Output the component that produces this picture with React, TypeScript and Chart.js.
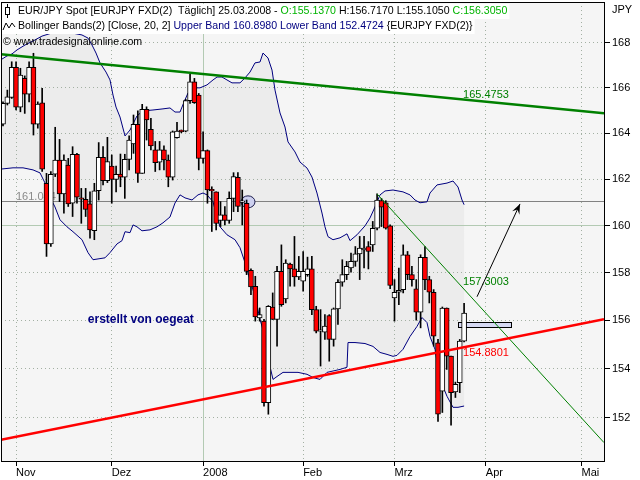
import React, { useEffect, useRef } from 'react';
import { Chart, registerables } from 'chart.js';

Chart.register(...registerables);

// ---------------- data ----------------
const FIRST_DAY = '2007-10-29';
const SLOT_COUNT = 139;
const MONTH_NAMES = ['Jan', 'Feb', 'Mrz', 'Apr', 'Mai', 'Jun', 'Jul', 'Aug', 'Sep', 'Okt', 'Nov', 'Dez'];

const openP = [
  164.40, 165.31, 165.58, 166.91, 165.14, 166.42, 165.72, 166.91, 164.40, 165.34,
  161.82, 159.22, 162.21, 162.83, 161.36, 162.61, 160.96, 163.08, 161.17, 161.13,
  160.93, 159.79, 161.50, 162.95, 161.93, 162.57, 161.99, 162.22, 162.08, 162.86,
  163.53, 164.39, 162.25, 165.05, 164.17, 163.27, 162.74, 163.27, 162.83, 162.08,
  163.80, 164.09, 164.09, 165.43, 166.27, 165.68, 162.90, 163.24, 161.50, 161.45,
  160.22, 160.46, 160.22, 161.17, 162.08, 161.00, 160.96, 158.10, 157.43, 156.10,
  155.97, 152.61, 156.56, 156.04, 158.06, 156.90, 158.37, 158.16, 157.82, 157.64,
  157.92, 158.16, 156.45, 155.55, 155.51, 156.20, 155.21, 156.48, 157.60, 157.92,
  158.20, 158.48, 158.80, 158.97, 159.11, 159.18, 159.89, 161.07, 160.98, 159.99,
  156.94, 157.18, 157.29, 158.76, 157.92, 157.32, 156.34, 158.65, 157.71, 157.18,
  155.07, 153.08, 156.52, 154.52, 153.05, 153.43, 155.137,
];
const highP = [
  165.38, 165.90, 167.16, 167.16, 166.87, 166.53, 167.16, 167.54, 165.38, 165.98,
  162.25, 162.33, 164.26, 163.73, 163.05, 162.90, 163.41, 163.12, 161.60, 161.60,
  161.45, 161.82, 163.59, 163.41, 163.82, 163.05, 162.57, 163.09, 163.08, 163.88,
  164.80, 164.98, 165.27, 165.16, 164.65, 163.64, 163.64, 163.45, 163.05, 164.10,
  164.48, 164.14, 165.49, 166.61, 166.42, 165.75, 164.06, 163.27, 161.67, 161.45,
  161.03, 160.82, 161.45, 162.28, 162.28, 161.53, 161.10, 158.16, 157.85, 156.52,
  156.04, 156.62, 157.15, 158.27, 159.18, 158.55, 158.41, 159.54, 158.69, 158.90,
  158.66, 158.69, 156.59, 156.45, 156.24, 156.24, 156.52, 157.71, 158.55, 158.48,
  158.83, 159.11, 159.54, 159.54, 159.32, 160.18, 161.36, 161.17, 161.07, 160.03,
  157.71, 158.20, 159.18, 158.90, 158.27, 157.71, 158.76, 159.11, 157.85, 157.29,
  155.21, 156.56, 156.52, 154.52, 153.45, 155.21, 156.717,
];
const lowP = [
  164.32, 165.24, 165.53, 165.02, 164.94, 164.87, 165.38, 163.92, 164.22, 162.33,
  158.69, 159.11, 162.11, 161.03, 160.53, 160.82, 160.39, 160.96, 160.10, 160.39,
  159.47, 159.40, 161.10, 161.75, 161.85, 160.96, 161.45, 161.67, 161.17, 162.40,
  163.12, 161.86, 162.25, 163.70, 163.27, 162.33, 162.40, 162.40, 161.67, 161.96,
  163.78, 164.02, 164.06, 165.31, 165.31, 162.40, 162.69, 160.96, 159.75, 159.82,
  159.96, 160.03, 160.10, 160.60, 160.60, 160.03, 157.92, 157.08, 155.97, 155.97,
  152.47, 152.14, 156.04, 154.93, 156.59, 156.73, 157.43, 157.43, 157.71, 157.22,
  157.85, 156.24, 155.48, 154.11, 155.21, 154.31, 154.93, 155.83, 157.43, 157.71,
  158.02, 158.27, 157.71, 158.20, 158.16, 158.90, 159.82, 159.96, 159.85, 157.33,
  155.97, 156.66, 157.15, 157.71, 157.43, 156.01, 155.69, 157.29, 156.73, 154.93,
  151.85, 152.21, 153.97, 151.69, 152.82, 153.02, 155.105,
];
const closeP = [
  165.31, 165.60, 166.91, 165.14, 166.57, 165.72, 166.91, 164.40, 165.28, 162.43,
  159.22, 162.21, 162.83, 161.36, 162.83, 160.93, 163.08, 161.22, 161.13, 160.70,
  159.82, 161.50, 162.95, 161.93, 162.76, 161.99, 162.21, 162.08, 162.86, 163.70,
  164.39, 162.25, 165.05, 164.58, 163.44, 162.71, 163.27, 162.83, 162.08, 164.06,
  164.09, 164.07, 165.43, 166.27, 165.34, 162.90, 163.24, 161.53, 161.49, 160.10,
  160.46, 160.22, 161.17, 162.11, 160.82, 161.00, 158.06, 157.40, 156.15, 156.24,
  152.61, 156.59, 156.04, 158.06, 156.66, 158.41, 158.16, 157.82, 158.06, 158.06,
  158.16, 156.45, 155.55, 155.55, 155.76, 155.21, 156.48, 157.60, 157.92, 158.27,
  158.48, 158.80, 159.04, 159.04, 158.90, 159.89, 161.10, 160.79, 159.89, 157.46,
  157.18, 157.26, 158.76, 157.92, 157.71, 156.34, 158.65, 157.71, 157.18, 155.34,
  152.14, 156.52, 154.52, 153.02, 153.36, 155.14, 156.305,
];

// Bollinger band (at irregular bar positions)
const upperIdx = [
  -0.23, 0.92, 2.07, 3.22, 5.06, 6.9, 8.97, 11.26, 13.56, 15.86, 18.16, 19.54, 20.46, 21.38, 22.3,
  23.68, 24.6, 25.29, 25.98, 26.9, 28.05, 29.2, 30.8, 32.18, 34.48, 36.78, 38.39, 39.54, 40.69,
  41.61, 42.53, 43.68, 45.29, 46.9, 48.28, 49.2, 50.34, 51.49, 52.64, 54.48, 55.63, 56.78, 57.93,
  59.08, 59.77, 60.92, 61.84, 62.53, 63.68, 64.83, 65.52, 67.13, 68.28, 69.89, 71.03, 72.18,
  73.33, 74.02, 74.71, 75.86, 77.47, 79.08, 79.77, 81.38, 83.22, 84.37, 85.52, 86.67, 87.82,
  89.66, 91.95, 93.56, 94.71, 95.86, 97.47, 98.16, 99.77, 102.07, 103.45, 104.6, 105.52, 106,
];
const upperVal = [
  167.28, 167.42, 167.51, 167.69, 167.91, 168.09, 168.31, 168.45, 168.49, 168.45, 168.36, 168.22, 167.91, 167.55, 167.11,
  166.70, 166.35, 165.68, 165.15, 164.71, 163.88, 164.14, 164.76, 164.98, 165.02, 165.07, 165.11, 164.93, 164.93,
  165.37, 165.77, 166.00, 166.00, 166.13, 166.35, 166.48, 166.48, 166.35, 166.22, 166.22, 166.44, 166.70, 167.11,
  167.15, 167.55, 167.33, 166.79, 165.90, 164.89, 164.27, 163.62, 163.18, 162.74, 162.48, 162.09, 161.40,
  160.54, 159.95, 159.53, 159.40, 159.48, 159.65, 159.36, 159.61, 159.99, 160.33, 160.80, 161.32, 161.49,
  161.53, 161.45, 161.32, 161.10, 160.98, 161.02, 161.40, 161.75, 161.83, 161.92, 161.66, 161.10, 160.898,
];
const lowerIdx = [
  -0.23, 2.3, 4.6, 6.9, 8.51, 9.66, 10.8, 11.95, 13.1, 14.71, 16.09, 18.16, 19.54, 20.69, 23.45,
  24.6, 26.21, 27.36, 28.05, 29.2, 29.89, 30.8, 31.95, 33.79, 35.4, 36.78, 38.39, 39.54, 40.69,
  41.84, 43.45, 44.83, 45.98, 46.9, 48.28, 49.2, 49.89, 51.49, 53.33, 54.48, 55.63, 56.78, 57.93,
  59.08, 60.23, 60.69, 61.38, 62.07, 62.99, 64.37, 65.98, 67.82, 69.89, 71.26, 72.87, 74.48,
  77.47, 79.08, 79.31, 80.92, 83.22, 85.06, 86.67, 88.28, 89.66, 90.57, 91.95, 93.56, 95.17,
  96.32, 97.47, 98.16, 99.31, 100.46, 102.07, 103.45, 104.6, 106,
];
const lowerVal = [
  162.44, 162.49, 162.49, 162.40, 162.27, 161.83, 161.23, 160.80, 160.25, 159.95, 159.74, 159.40, 158.85, 158.55, 158.63,
  158.85, 159.22, 159.36, 159.74, 159.70, 160.03, 159.95, 159.78, 159.82, 159.95, 160.12, 160.37, 160.97, 161.32,
  161.19, 161.10, 161.32, 161.40, 161.32, 161.02, 160.37, 159.95, 159.61, 159.40, 159.06, 158.43, 157.71, 157.00,
  156.04, 155.33, 154.67, 154.09, 153.56, 153.68, 153.85, 153.85, 153.85, 153.77, 153.64, 153.56, 153.85,
  153.97, 154.06, 155.08, 155.08, 155.04, 154.92, 154.67, 154.59, 154.51, 154.55, 154.80, 155.33, 155.75,
  156.12, 155.91, 155.33, 154.80, 153.56, 152.87, 152.42, 152.42, 152.4724,
];

const Y_TICKS = [152, 154, 156, 158, 160, 162, 164, 166, 168];
const Y_MIN = 150.25;
const Y_MAX = 169.85;
const X_MIN = -0.46;
const X_MAX = 138.16;

// drawn trend lines: [start, end] in bar index / price
const greenTrendIdx = [-0.46, 138.16];
const greenTrendVal = [167.5, 164.88];
const redTrendIdx = [-0.46, 138.16];
const redTrendVal = [151.1, 156.05];
const thinTrendIdx = [86, 138.16];
const thinTrendVal = [161.36, 150.99];

const HLINE_VALUE = 161.044;
const MAJOR_Y_LINE = 160;
const ARROW_IDX = [108.97, 118.85];
const ARROW_VAL = [156.99, 160.93];
const ELLIPSE_POS = [56.32, 161.02];
const RECT_IDX = [104.8, 117.0];
const RECT_VAL = [155.91, 155.70];
const LINE_LABEL_IDX = 105.75;
const LINE_LABELS = ['165.4753', '157.3003', '154.8801'];
const NOTE_TEXT = 'erstellt von oegeat';
const NOTE_POS = [19.5, 156.04];

const LEGEND_ROW1 = [
  ['EUR/JPY Spot [EURJPY FXD(2)  Täglich] 25.03.2008 - ', '#000000'],
  ['O:155.1370', '#00b400'],
  [' H:156.7170 L:155.1050 ', '#000000'],
  ['C:156.3050', '#00b400'],
];
const LEGEND_ROW2 = [
  ['Bollinger Bands(2) [Close, 20, 2] ', '#000000'],
  ['Upper Band 160.8980 Lower Band 152.4724', '#000080'],
  [' {EURJPY FXD(2)}', '#000000'],
];
const LEGEND_ROW3 = '© www.tradesignalonline.com';

// ---------------- helpers ----------------
function tradingDays(start: string, n: number): Date[] {
  const out: Date[] = [];
  const d = new Date(start + 'T12:00:00Z');
  while (out.length < n) {
    const wd = d.getUTCDay();
    if (wd !== 0 && wd !== 6) out.push(new Date(d.getTime()));
    d.setUTCDate(d.getUTCDate() + 1);
  }
  return out;
}

const DAYS = tradingDays(FIRST_DAY, SLOT_COUNT);
const MONTH_TICKS: number[] = [];
DAYS.forEach((d, i) => {
  if (i > 0 && d.getUTCMonth() !== DAYS[i - 1].getUTCMonth()) MONTH_TICKS.push(i);
});
function monthLabel(i: number): string {
  const d = DAYS[Math.round(i)];
  if (!d) return '';
  const m = d.getUTCMonth();
  return m === 0 ? String(d.getUTCFullYear()) : MONTH_NAMES[m];
}

const FONT = '"Liberation Sans", Arial, sans-serif';
const align = (p: number) => Math.round(p - 0.5) + 0.5;

const decorPlugin = {
  id: 'decor',
  beforeDraw(chart: any) {
    const { ctx, chartArea: a } = chart;
    ctx.save();
    ctx.fillStyle = '#ffffff';
    ctx.fillRect(0, 0, chart.width, chart.height);
    ctx.fillStyle = '#f5f5f5';
    ctx.fillRect(a.left, a.top, a.right - a.left, a.bottom - a.top);
    ctx.restore();
  },
  beforeDatasetsDraw(chart: any) {
    const { ctx, chartArea: a } = chart;
    const xs = chart.scales.x;
    const ys = chart.scales.y;
    ctx.save();
    ctx.beginPath();
    ctx.rect(a.left, a.top, a.right - a.left, a.bottom - a.top);
    ctx.clip();

    // band fill
    ctx.beginPath();
    upperIdx.forEach((v, k) => {
      const px = xs.getPixelForValue(v);
      const py = ys.getPixelForValue(upperVal[k]);
      if (k === 0) ctx.moveTo(px, py);
      else ctx.lineTo(px, py);
    });
    for (let k = lowerIdx.length - 1; k >= 0; k--) {
      ctx.lineTo(xs.getPixelForValue(lowerIdx[k]), ys.getPixelForValue(lowerVal[k]));
    }
    ctx.closePath();
    ctx.fillStyle = '#ececec';
    ctx.fill();

    // dotted grid
    ctx.lineWidth = 1;
    ctx.setLineDash([1, 3]);
    ctx.strokeStyle = '#a3b0a3';
    Y_TICKS.forEach((v) => {
      if (v === MAJOR_Y_LINE) return;
      const y = align(ys.getPixelForValue(v));
      ctx.beginPath();
      ctx.moveTo(a.left, y);
      ctx.lineTo(a.right, y);
      ctx.stroke();
    });
    MONTH_TICKS.forEach((t) => {
      if (DAYS[t].getUTCMonth() === 0) return;
      const x = align(xs.getPixelForValue(t));
      ctx.beginPath();
      ctx.moveTo(x, a.top);
      ctx.lineTo(x, a.bottom);
      ctx.stroke();
    });
    ctx.setLineDash([]);
    ctx.strokeStyle = '#b3cab3';
    {
      const y = align(ys.getPixelForValue(MAJOR_Y_LINE));
      ctx.beginPath();
      ctx.moveTo(a.left, y);
      ctx.lineTo(a.right, y);
      ctx.stroke();
    }
    MONTH_TICKS.forEach((t) => {
      if (DAYS[t].getUTCMonth() !== 0) return;
      const x = align(xs.getPixelForValue(t));
      ctx.beginPath();
      ctx.moveTo(x, a.top);
      ctx.lineTo(x, a.bottom);
      ctx.stroke();
    });

    // horizontal line 161.044
    const hy = align(ys.getPixelForValue(HLINE_VALUE));
    ctx.strokeStyle = '#828282';
    ctx.beginPath();
    ctx.moveTo(a.left, hy);
    ctx.lineTo(a.right, hy);
    ctx.stroke();
    ctx.fillStyle = '#8a8a8a';
    ctx.font = '11px ' + FONT;
    ctx.textBaseline = 'alphabetic';
    ctx.textAlign = 'left';
    ctx.fillText(HLINE_VALUE.toFixed(3), 16, hy - 2);

    // ellipse
    const ex = xs.getPixelForValue(ELLIPSE_POS[0]);
    const ey = ys.getPixelForValue(ELLIPSE_POS[1]);
    ctx.beginPath();
    ctx.ellipse(ex, ey, 7, 6, 0, 0, Math.PI * 2);
    ctx.fillStyle = '#cdd0ef';
    ctx.fill();
    ctx.strokeStyle = '#1c1c4c';
    ctx.stroke();

    // rectangle
    const rx1 = align(xs.getPixelForValue(RECT_IDX[0]));
    const rx2 = align(xs.getPixelForValue(RECT_IDX[1]));
    const ry1 = align(ys.getPixelForValue(RECT_VAL[0]));
    const ry2 = align(ys.getPixelForValue(RECT_VAL[1]));
    ctx.fillStyle = '#d6d9f3';
    ctx.fillRect(rx1, ry1, rx2 - rx1, ry2 - ry1);
    ctx.strokeStyle = '#000000';
    ctx.strokeRect(rx1, ry1, rx2 - rx1, ry2 - ry1);

    ctx.restore();
  },
  afterDatasetsDraw(chart: any) {
    const { ctx, chartArea: a } = chart;
    const xs = chart.scales.x;
    const ys = chart.scales.y;
    ctx.save();
    ctx.beginPath();
    ctx.rect(a.left, a.top, a.right - a.left, a.bottom - a.top);
    ctx.clip();

    // labels on the trend lines
    ctx.font = '11px ' + FONT;
    ctx.textBaseline = 'middle';
    ctx.textAlign = 'left';
    const lx = xs.getPixelForValue(LINE_LABEL_IDX);
    const offs = [-5, -7, 6];
    const cols = ['#008000', '#008000', '#ff0000'];
    LINE_LABELS.forEach((t, k) => {
      ctx.fillStyle = cols[k];
      ctx.fillText(t, lx, ys.getPixelForValue(parseFloat(t)) + offs[k]);
    });

    // arrow
    const x1 = xs.getPixelForValue(ARROW_IDX[0]);
    const y1 = ys.getPixelForValue(ARROW_VAL[0]);
    const x2 = xs.getPixelForValue(ARROW_IDX[1]);
    const y2 = ys.getPixelForValue(ARROW_VAL[1]);
    ctx.strokeStyle = '#000';
    ctx.lineWidth = 1;
    ctx.beginPath();
    ctx.moveTo(x1, y1);
    ctx.lineTo(x2, y2);
    ctx.stroke();
    const ang = Math.atan2(y2 - y1, x2 - x1);
    const L = 10;
    const W = 4;
    ctx.beginPath();
    ctx.moveTo(x2, y2);
    ctx.lineTo(x2 - L * Math.cos(ang) + W * Math.sin(ang), y2 - L * Math.sin(ang) - W * Math.cos(ang));
    ctx.lineTo(x2 - 0.6 * L * Math.cos(ang), y2 - 0.6 * L * Math.sin(ang));
    ctx.lineTo(x2 - L * Math.cos(ang) - W * Math.sin(ang), y2 - L * Math.sin(ang) + W * Math.cos(ang));
    ctx.closePath();
    ctx.fillStyle = '#000';
    ctx.fill();

    // note
    ctx.font = 'bold 12px ' + FONT;
    ctx.fillStyle = '#000080';
    ctx.textBaseline = 'middle';
    ctx.fillText(NOTE_TEXT, xs.getPixelForValue(NOTE_POS[0]), ys.getPixelForValue(NOTE_POS[1]));

    // legend
    ctx.font = '10.6px ' + FONT;
    ctx.textBaseline = 'middle';
    const drawRow = (segs: string[][], x0: number, yc: number, bg: boolean) => {
      let w = 0;
      segs.forEach((s) => (w += ctx.measureText(s[0]).width));
      if (bg) {
        ctx.fillStyle = '#ffffff';
        ctx.fillRect(a.left + 1, yc - 7, x0 - a.left + w + 1, 15);
      }
      let x = x0;
      segs.forEach((s) => {
        ctx.fillStyle = s[1];
        ctx.fillText(s[0], x, yc);
        x += ctx.measureText(s[0]).width;
      });
    };
    drawRow(LEGEND_ROW1, 18, 11, true);
    drawRow(LEGEND_ROW2, 18, 26, true);
    ctx.fillStyle = '#000';
    ctx.fillText(LEGEND_ROW3, 3, 42);

    // legend icons
    ctx.strokeStyle = '#000';
    ctx.lineWidth = 1;
    ctx.beginPath();
    ctx.moveTo(7.5, 4);
    ctx.lineTo(7.5, 18);
    ctx.stroke();
    ctx.fillStyle = '#fff';
    ctx.fillRect(5.5, 7.5, 4, 7);
    ctx.strokeRect(5.5, 7.5, 4, 7);
    ctx.beginPath();
    ctx.moveTo(3, 30);
    ctx.lineTo(6, 23);
    ctx.lineTo(9, 28);
    ctx.lineTo(12, 23);
    ctx.lineTo(15, 27);
    ctx.stroke();

    ctx.restore();
  },
  afterDraw(chart: any) {
    const { ctx, chartArea: a } = chart;
    ctx.save();
    ctx.strokeStyle = '#000';
    ctx.lineWidth = 1;
    ctx.strokeRect(a.left + 0.5, a.top + 0.5, a.right - a.left, a.bottom - a.top);
    ctx.fillStyle = '#000';
    ctx.font = '11px ' + FONT;
    ctx.textBaseline = 'middle';
    ctx.textAlign = 'left';
    ctx.fillText('JPY', 612, 10);
    ctx.restore();
  },
};

export default function App() {
  const ref = useRef<HTMLCanvasElement | null>(null);
  useEffect(() => {
    if (!ref.current) return;
    Chart.defaults.font.family = FONT;
    Chart.defaults.font.size = 11;
    const bodies = openP.map((o, i) => ({ x: i, y: [o, closeP[i]] }));
    const wicks = lowP.map((l, i) => ({ x: i, y: [l, highP[i]] }));
    const line = (idx: number[], val: number[]) => idx.map((x, k) => ({ x, y: val[k] }));

    const chart = new Chart(ref.current, {
      type: 'bar',
      data: {
        datasets: [
          {
            type: 'line', label: 'Trend oben', data: line(greenTrendIdx, greenTrendVal),
            borderColor: '#008000', borderWidth: 2.5, pointRadius: 0, order: 0, fill: false,
          } as any,
          {
            type: 'line', label: 'Trend unten', data: line(redTrendIdx, redTrendVal),
            borderColor: '#ff0000', borderWidth: 2.5, pointRadius: 0, order: 0, fill: false,
          } as any,
          {
            type: 'line', label: 'Abwärtstrend', data: line(thinTrendIdx, thinTrendVal),
            borderColor: '#008000', borderWidth: 1, pointRadius: 0, order: 0, fill: false,
          } as any,
          {
            type: 'bar', label: 'Body', data: bodies,
            backgroundColor: (c: any) => (closeP[c.dataIndex] >= openP[c.dataIndex] ? '#ffffff' : '#ff0000'),
            borderColor: '#000000', borderWidth: 1, borderSkipped: false,
            barThickness: 5, grouped: false, minBarLength: 1.5, order: 1,
          } as any,
          {
            type: 'bar', label: 'Docht', data: wicks, backgroundColor: '#000000',
            barThickness: 1, grouped: false, order: 2,
          } as any,
          {
            type: 'line', label: 'Upper Band', data: line(upperIdx, upperVal),
            borderColor: '#000080', borderWidth: 1, pointRadius: 0, order: 3, fill: false, tension: 0,
          } as any,
          {
            type: 'line', label: 'Lower Band', data: line(lowerIdx, lowerVal),
            borderColor: '#000080', borderWidth: 1, pointRadius: 0, order: 3, fill: false, tension: 0,
          } as any,
        ],
      },
      options: {
        animation: false,
        responsive: false,
        maintainAspectRatio: false,
        layout: { padding: { left: 1, top: 2, right: 0, bottom: 0 } },
        plugins: { legend: { display: false }, tooltip: { enabled: false } },
        scales: {
          x: {
            type: 'linear',
            position: 'bottom',
            min: X_MIN,
            max: X_MAX,
            offset: false,
            afterBuildTicks: (s: any) => {
              s.ticks = MONTH_TICKS.map((v) => ({ value: v }));
            },
            afterFit: (s: any) => {
              s.height = 19;
              s.paddingLeft = 0;
              s.paddingRight = 0;
            },
            ticks: {
              autoSkip: false,
              maxRotation: 0,
              minRotation: 0,
              align: 'start',
              padding: 0,
              color: '#000000',
              font: { size: 11, family: FONT },
              callback: (v: any) => monthLabel(Number(v)),
            },
            grid: { drawOnChartArea: false, drawTicks: true, tickLength: 5, tickColor: '#000000', offset: false },
            border: { display: true, color: '#000000', width: 1 },
          },
          y: {
            type: 'logarithmic',
            position: 'right',
            min: Y_MIN,
            max: Y_MAX,
            beginAtZero: false,
            afterBuildTicks: (s: any) => {
              s.ticks = Y_TICKS.map((v) => ({ value: v }));
            },
            afterFit: (s: any) => {
              s.width = 36;
              s.paddingTop = 0;
              s.paddingBottom = 0;
            },
            ticks: {
              padding: 2,
              color: '#000000',
              font: { size: 11, family: FONT },
              callback: (v: any) => String(v),
            },
            grid: { drawOnChartArea: false, drawTicks: true, tickLength: 6, tickColor: '#000000' },
            border: { display: true, color: '#000000', width: 1 },
          },
        },
      } as any,
      plugins: [decorPlugin],
    });
    return () => chart.destroy();
  }, []);

  return (
    <div style={{ position: 'absolute', left: 0, top: 0, width: 640, height: 480, background: '#fff' }}>
      <canvas ref={ref} width={640} height={480} style={{ display: 'block', width: 640, height: 480 }} />
    </div>
  );
}
